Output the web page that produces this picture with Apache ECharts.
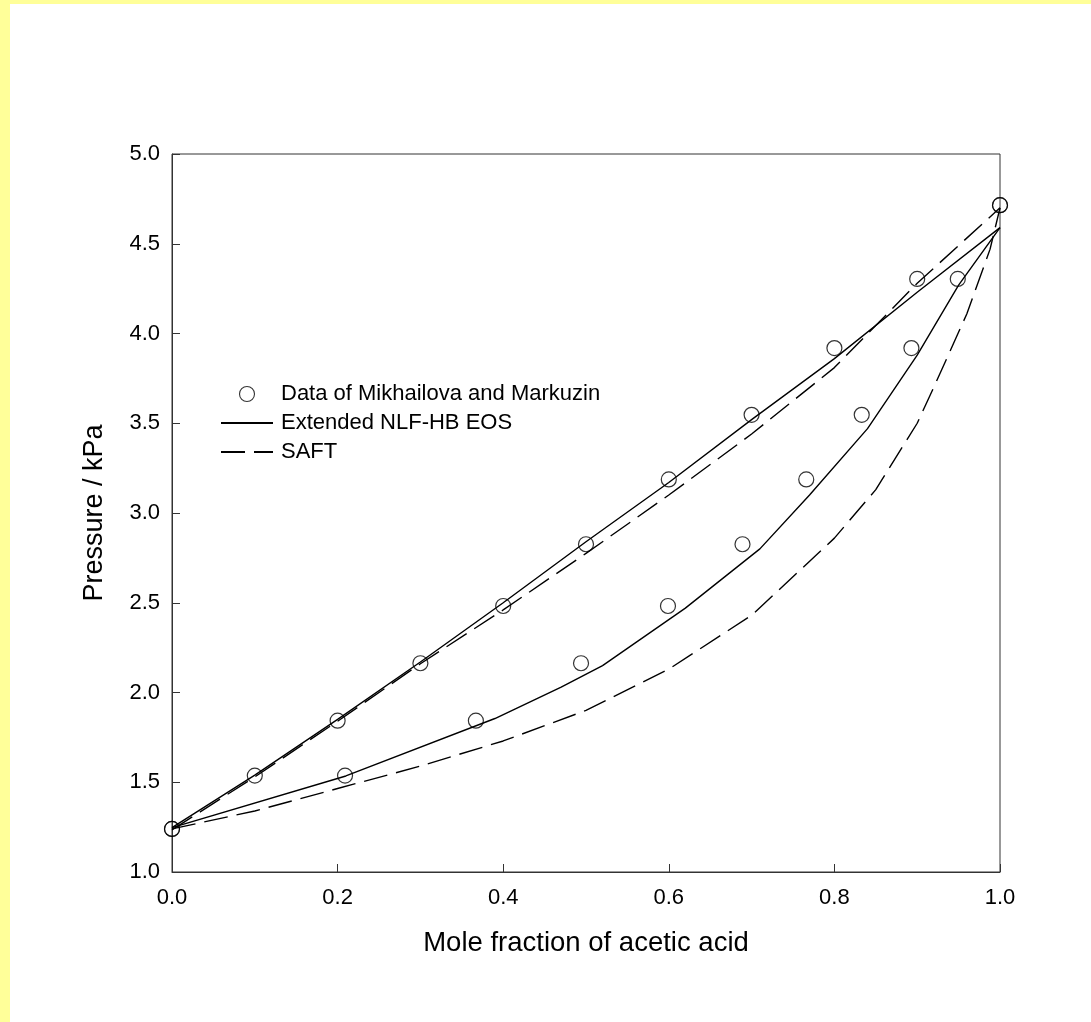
<!DOCTYPE html>
<html>
<head>
<meta charset="utf-8">
<script src="https://cdn.jsdelivr.net/npm/echarts@6/dist/echarts.min.js"></script>
<style>
html,body{margin:0;padding:0;background:#ffffff;}
#chart{width:1091px;height:1022px;}
</style>
</head>
<body>
<div id="chart"></div>
<script>
// Experimental data (Mikhailova and Markuzin)
const pressure = [1.24, 1.537, 1.843, 2.163, 2.482, 2.826, 3.187, 3.547, 3.919, 4.304, 4.715];
const liquidX  = [0.0, 0.1, 0.2, 0.3, 0.4, 0.5, 0.6, 0.7, 0.8, 0.9, 1.0];
const vaporX   = [0.0, 0.209, 0.367, 0.494, 0.599, 0.689, 0.766, 0.833, 0.893, 0.949, 1.0];

// Extended NLF-HB EOS
const nlfBubbleX = [0.0, 0.1, 0.2, 0.3, 0.4, 0.5, 0.6, 0.7, 0.8, 0.9, 1.0];
const nlfBubbleY = [1.247, 1.54, 1.85, 2.17, 2.50, 2.84, 3.17, 3.52, 3.86, 4.23, 4.59];
const nlfDewX = [0.0, 0.21, 0.39, 0.47, 0.52, 0.62, 0.71, 0.77, 0.84, 0.90, 0.95, 1.0];
const nlfDewY = [1.247, 1.535, 1.855, 2.03, 2.15, 2.47, 2.80, 3.10, 3.47, 3.88, 4.27, 4.59];

// SAFT
const saftBubbleX = [0.0, 0.1, 0.2, 0.3, 0.4, 0.5, 0.6, 0.7, 0.8, 0.9, 1.0];
const saftBubbleY = [1.235, 1.53, 1.84, 2.16, 2.46, 2.775, 3.10, 3.44, 3.81, 4.28, 4.70];
const saftDewX = [0.0, 0.1, 0.2, 0.3, 0.4, 0.5, 0.6, 0.7, 0.8, 0.85, 0.9, 0.92, 0.96, 0.988, 1.0];
const saftDewY = [1.24, 1.34, 1.465, 1.59, 1.73, 1.90, 2.13, 2.43, 2.86, 3.13, 3.50, 3.70, 4.11, 4.47, 4.70];

const xTicks = ['0.0','0.2','0.4','0.6','0.8','1.0'];
const yTicks = ['1.0','1.5','2.0','2.5','3.0','3.5','4.0','4.5','5.0'];

const names = ['Data of Mikhailova and Markuzin', 'Extended NLF-HB EOS', 'SAFT'];

function pairs(xs, ys){ return xs.map((x,i)=>[x, ys[i]]); }
const expData = pairs(liquidX, pressure).concat(pairs(vaporX, pressure));

const FONT = '"Liberation Sans", Arial, sans-serif';
const chart = echarts.init(document.getElementById('chart'), null, {renderer:'canvas'});

const lineBase = (name, data, dashed) => ({
  name: name, type: 'line', data: data, symbol: 'none', smooth: false,
  lineStyle: {color: '#000', width: 1.4, type: dashed ? [24, 9] : 'solid'},
  itemStyle: {color: '#000'}, z: 3, animation: false
});

chart.setOption({
  backgroundColor: '#ffffff',
  animation: false,
  graphic: [
    {type:'rect', left:0, top:0, shape:{width:10, height:1022}, style:{fill:'#ffff99'}, silent:true},
    {type:'rect', left:0, top:0, shape:{width:1091, height:4}, style:{fill:'#ffff99'}, silent:true}
  ],
  grid: {left:172, top:154, width:828, height:718, show:true, borderColor:'#333', borderWidth:1, backgroundColor:'transparent'},
  legend: {
    orient:'vertical', left:215, top:378, itemWidth:52, itemHeight:15, itemGap:7,
    data: [
      {name: names[0], itemStyle:{borderWidth:1.1}},
      {name: names[1], itemStyle:{opacity:0}},
      {name: names[2], itemStyle:{opacity:0}}
    ],
    textStyle:{fontFamily:FONT, fontSize:22, color:'#000', padding:[0,0,0,3]},
    selectedMode:false
  },
  xAxis: {
    type:'value', min:0, max:1, interval:0.2,
    name:'Mole fraction of acetic acid', nameLocation:'middle', nameGap:57,
    nameTextStyle:{fontFamily:FONT, fontSize:27.5, color:'#000', verticalAlign:'top'},
    axisLine:{show:true, lineStyle:{color:'#333', width:1}},
    axisTick:{show:true, inside:true, length:8, lineStyle:{color:'#333'}},
    axisLabel:{fontFamily:FONT, fontSize:22, color:'#000', margin:15,
      formatter:(v)=>xTicks[Math.round(v/0.2)]},
    splitLine:{show:false}
  },
  yAxis: {
    type:'value', min:1, max:5, interval:0.5,
    name:'Pressure / kPa', nameLocation:'middle', nameGap:64, nameRotate:90,
    nameTextStyle:{fontFamily:FONT, fontSize:27, color:'#000'},
    axisLine:{show:true, lineStyle:{color:'#333', width:1}},
    axisTick:{show:true, inside:true, length:8, lineStyle:{color:'#333'}},
    axisLabel:{fontFamily:FONT, fontSize:22, color:'#000', margin:12,
      formatter:(v)=>yTicks[Math.round((v-1)/0.5)]},
    splitLine:{show:false}
  },
  series: [
    {name:names[0], type:'scatter', data:expData, symbol:'circle', symbolSize:15,
      itemStyle:{color:'rgba(0,0,0,0)', borderColor:'#000', borderWidth:1.2}, z:4},
    lineBase(names[1], pairs(nlfBubbleX, nlfBubbleY), false),
    lineBase(names[1], pairs(nlfDewX, nlfDewY), false),
    lineBase(names[2], pairs(saftBubbleX, saftBubbleY), true),
    lineBase(names[2], pairs(saftDewX, saftDewY), true)
  ]
});
</script>
</body>
</html>
